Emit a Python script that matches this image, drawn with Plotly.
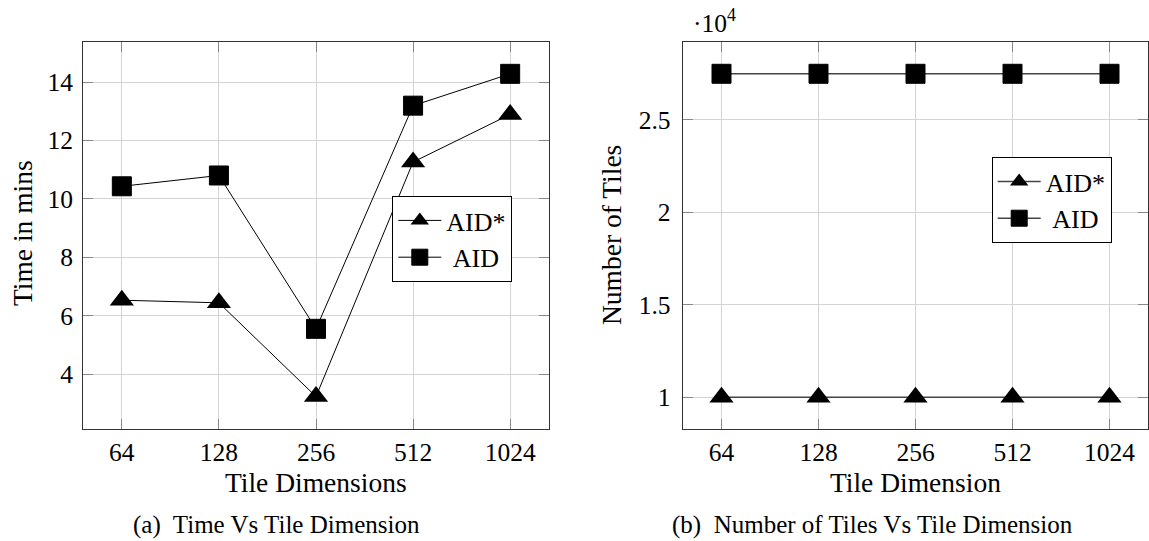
import plotly.graph_objects as go

# Tile dimensions on the horizontal axis (evenly spaced, powers of two)
tile_dims = ["64", "128", "256", "512", "1024"]

# (a) processing time in minutes
time_aid_star = [6.53, 6.44, 3.23, 11.26, 12.89]
time_aid = [10.43, 10.80, 5.55, 13.19, 14.28]

# (b) number of tiles produced
tiles_aid_star = [10000, 10000, 10000, 10000, 10000]
tiles_aid = [27500, 27500, 27500, 27500, 27500]

left_yticks = [4, 6, 8, 10, 12, 14]
right_yticks = [10000, 15000, 20000, 25000]
right_yticklabels = ["1", "1.5", "2", "2.5"]

FONT = "'Times New Roman', 'Liberation Serif', 'DejaVu Serif', serif"
TICK_SIZE = 25.5
LABEL_SIZE = 27.5
LEGEND_SIZE = 26
CAPTION_SIZE = 25
INK = "black"
GRID = "#d4d4d4"
FRAME = "#333333"

W, H = 1149, 541


def px(x):
    return x / W


def py(y):
    return 1 - y / H


fig = go.Figure()

tri = dict(symbol="triangle-up", size=21, color=INK, line=dict(width=0))
sq = dict(symbol="square", size=19, color=INK, line=dict(width=1, color=INK))

fig.add_trace(go.Scatter(x=tile_dims, y=time_aid_star, name="AID*", mode="lines+markers",
                         line=dict(color=INK, width=1), marker=tri,
                         xaxis="x", yaxis="y", legend="legend"))
fig.add_trace(go.Scatter(x=tile_dims, y=time_aid, name="\u00a0AID", mode="lines+markers",
                         line=dict(color=INK, width=1), marker=sq,
                         xaxis="x", yaxis="y", legend="legend"))
fig.add_trace(go.Scatter(x=tile_dims, y=tiles_aid_star, name="AID*", mode="lines+markers",
                         line=dict(color="#444444", width=1.5), marker=tri,
                         xaxis="x2", yaxis="y2", legend="legend2"))
fig.add_trace(go.Scatter(x=tile_dims, y=tiles_aid, name="\u00a0AID", mode="lines+markers",
                         line=dict(color="#444444", width=1.5), marker=sq,
                         xaxis="x2", yaxis="y2", legend="legend2"))

common_axis = dict(
    showline=True, linecolor=FRAME, linewidth=1, mirror="allticks",
    showgrid=True, gridcolor=GRID, gridwidth=1,
    ticks="inside", ticklen=10, tickcolor="#888888", tickwidth=1,
    tickfont=dict(family=FONT, size=TICK_SIZE, color=INK),
    zeroline=False, fixedrange=True,
)

ydom = [py(429), py(42)]

legend_style = dict(
    xanchor="left", yanchor="top",
    bgcolor="white", bordercolor=INK, borderwidth=1,
    font=dict(family=FONT, size=LEGEND_SIZE, color=INK),
    tracegroupgap=0, itemwidth=43,
)

fig.update_layout(
    width=W, height=H,
    margin=dict(l=0, r=0, t=0, b=0),
    paper_bgcolor="white", plot_bgcolor="white",
    font=dict(family=FONT, color=INK),
    xaxis=dict(domain=[px(83), px(549)], type="category", range=[-0.4, 4.4],
               anchor="y", **common_axis),
    yaxis=dict(domain=ydom, range=[2.12, 15.37], tickvals=left_yticks,
               anchor="x", ticklabelstandoff=4, **common_axis),
    xaxis2=dict(domain=[px(682.7), px(1148.3)], type="category", range=[-0.4, 4.4],
                anchor="y2", **common_axis),
    yaxis2=dict(domain=ydom, range=[8280, 29220], tickvals=right_yticks,
                ticktext=right_yticklabels, anchor="x2", ticklabelstandoff=6,
                **common_axis),
    legend=dict(x=px(392.3), y=py(196), **legend_style),
    legend2=dict(x=px(991.7), y=py(157), **legend_style),
    showlegend=True,
)

label_font = dict(family=FONT, size=LABEL_SIZE, color=INK)
caption_font = dict(family=FONT, size=CAPTION_SIZE, color=INK)

annotations = [
    dict(text="Time in mins", x=px(22), y=py(233), textangle=-90, font=label_font),
    dict(text="Tile Dimensions", x=px(316), y=py(482), font=label_font),
    dict(text="Number of Tiles", x=px(612), y=py(235), textangle=-90, font=label_font),
    dict(text="Tile Dimension", x=px(915.5), y=py(482), font=label_font),
    dict(text="\u00b710<sup>4</sup>", x=px(691), y=py(22), xanchor="left",
         font=dict(family=FONT, size=TICK_SIZE, color=INK)),
    dict(text="(a)  Time Vs Tile Dimension", x=px(276), y=0, yanchor="bottom",
         font=caption_font),
    dict(text="(b)  Number of Tiles Vs Tile Dimension", x=px(872), y=0, yanchor="bottom",
         font=caption_font),
]
for a in annotations:
    a.update(xref="paper", yref="paper", showarrow=False)
    a.setdefault("xanchor", "center")
    a.setdefault("yanchor", "middle")
fig.update_layout(annotations=annotations)

fig.write_html("out.html")
